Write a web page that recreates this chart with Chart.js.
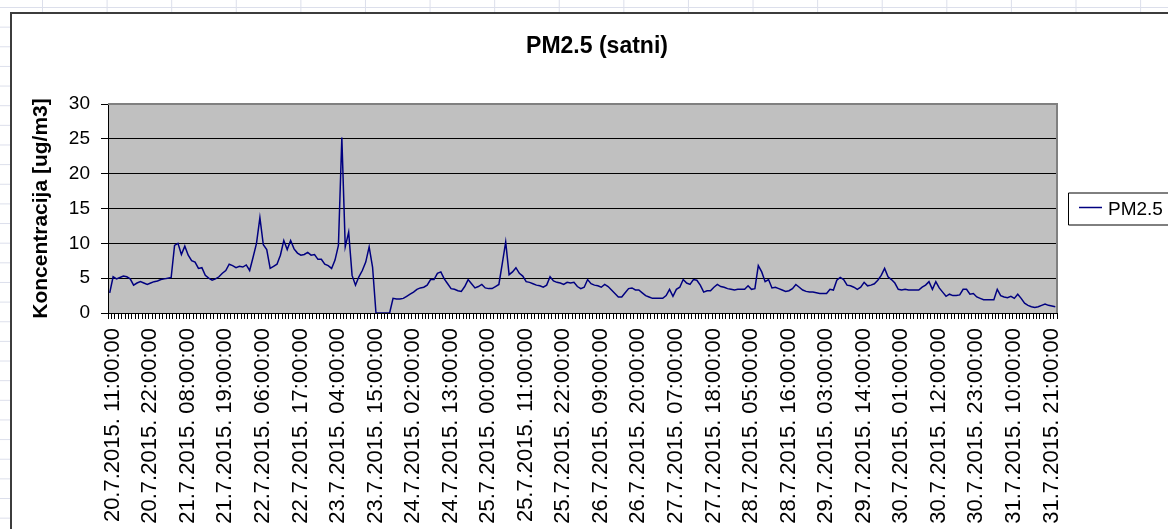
<!DOCTYPE html>
<html lang="hr">
<head>
<meta charset="UTF-8">
<title>PM2.5 (satni)</title>
<style>
html {
    overflow: hidden;
}

body {
    margin: 0;
    width: 1168px;
    height: 529px;
    overflow: hidden;
    position: relative;
    background-color: #fff;
    /* spreadsheet cells behind the chart */
    background-image:
        linear-gradient(to bottom, #dcdfeb 1px, transparent 1px),
        linear-gradient(to right, #dcdfeb 1px, transparent 1px);
    background-size: 64.6px 19.65px;
    background-position: 42px 7px;
}

#frame {
    position: absolute;
    left: 10px;
    top: 12px;
    width: 1200px;
    height: 600px;
    border: 2px solid #3c3c3c;
    background: #fff;
}

canvas {
    display: block;
}
</style>
<script src="https://cdn.jsdelivr.net/npm/chart.js"></script>
</head>
<body>
<div id="frame">
    <canvas id="pmChart" width="1156" height="515"></canvas>
</div>

<script>
// Chart texts
const chartTitle = 'PM2.5 (satni)';
const seriesName = 'PM2.5';
const yAxisTitle = 'Koncentracija [ug/m3]';

// Labels shown on the category axis (one every 11 hours)
const tickLabels = [
    '20.7.2015. 11:00:00', '20.7.2015. 22:00:00', '21.7.2015. 08:00:00',
    '21.7.2015. 19:00:00', '22.7.2015. 06:00:00', '22.7.2015. 17:00:00',
    '23.7.2015. 04:00:00', '23.7.2015. 15:00:00', '24.7.2015. 02:00:00',
    '24.7.2015. 13:00:00', '25.7.2015. 00:00:00', '25.7.2015. 11:00:00',
    '25.7.2015. 22:00:00', '26.7.2015. 09:00:00', '26.7.2015. 20:00:00',
    '27.7.2015. 07:00:00', '27.7.2015. 18:00:00', '28.7.2015. 05:00:00',
    '28.7.2015. 16:00:00', '29.7.2015. 03:00:00', '29.7.2015. 14:00:00',
    '30.7.2015. 01:00:00', '30.7.2015. 12:00:00', '30.7.2015. 23:00:00',
    '31.7.2015. 10:00:00', '31.7.2015. 21:00:00'
];
const labelEvery = 11;

// Hourly PM2.5 values [ug/m3], one row per labelled block of 11 hours
const pm25 = [
    2.9, 5.2, 4.9, 5.1, 5.3, 5.2, 4.9, 4.0, 4.3, 4.5, 4.3,
    4.1, 4.3, 4.5, 4.6, 4.8, 4.9, 5.0, 5.1, 9.7, 10.0, 8.4,
    9.6, 8.3, 7.5, 7.3, 6.4, 6.5, 5.4, 5.0, 4.7, 4.9, 5.2,
    5.7, 6.1, 7.0, 6.8, 6.5, 6.7, 6.6, 6.9, 6.1, 8.0, 10.0,
    13.7, 9.8, 9.1, 6.4, 6.7, 7.0, 8.3, 10.4, 9.1, 10.4, 9.2,
    8.6, 8.3, 8.4, 8.7, 8.3, 8.4, 7.7, 7.7, 7.0, 6.8, 6.4,
    7.6, 9.7, 25.2, 9.5, 11.6, 5.4, 4.0, 5.2, 6.1, 7.3, 9.5,
    6.6, 0, 0, 0, 0, 0, 2.1, 2.0, 2.0, 2.1, 2.4,
    2.7, 3.0, 3.4, 3.6, 3.7, 4.0, 4.8, 4.8, 5.7, 5.9, 4.9,
    4.2, 3.5, 3.4, 3.2, 3.1, 3.8, 4.8, 4.2, 3.6, 3.8, 4.1,
    3.6, 3.5, 3.5, 3.8, 4.1, 7.1, 10.2, 5.5, 5.9, 6.5, 5.7,
    5.3, 4.5, 4.4, 4.2, 4.0, 3.9, 3.7, 4.0, 5.2, 4.6, 4.4,
    4.3, 4.1, 4.4, 4.3, 4.4, 3.8, 3.5, 3.7, 4.8, 4.2, 4.0,
    3.9, 3.7, 4.1, 3.8, 3.3, 2.8, 2.3, 2.3, 2.9, 3.5, 3.6,
    3.3, 3.3, 2.9, 2.5, 2.3, 2.1, 2.1, 2.1, 2.1, 2.5, 3.4,
    2.4, 3.4, 3.7, 4.8, 4.3, 4.1, 4.8, 4.7, 4.0, 3.0, 3.2,
    3.2, 3.7, 4.1, 3.8, 3.7, 3.5, 3.4, 3.3, 3.4, 3.4, 3.4,
    3.9, 3.4, 3.5, 6.8, 5.9, 4.5, 4.8, 3.6, 3.7, 3.5, 3.3,
    3.1, 3.2, 3.5, 4.1, 3.7, 3.3, 3.1, 3.0, 3.0, 2.9, 2.8,
    2.8, 2.8, 3.4, 3.3, 4.7, 5.1, 4.8, 4.0, 3.9, 3.7, 3.4,
    3.7, 4.4, 3.9, 4.0, 4.2, 4.7, 5.4, 6.4, 5.2, 4.8, 4.3,
    3.4, 3.3, 3.4, 3.3, 3.3, 3.3, 3.3, 3.7, 4.0, 4.5, 3.4,
    4.5, 3.6, 3.0, 2.4, 2.7, 2.5, 2.5, 2.6, 3.4, 3.4, 2.7,
    2.8, 2.3, 2.1, 1.9, 1.9, 1.9, 1.9, 3.4, 2.5, 2.3, 2.2,
    2.4, 2.1, 2.7, 2.1, 1.4, 1.1, 0.9, 0.8, 0.9, 1.1, 1.3,
    1.1, 1.0, 0.9
];

// Value axis
const yMin = 0;
const yMax = 30;
const yStep = 5;

// one category per hour, only every 11th one carries a label
const categories = pm25.map((v, i) => (i % labelEvery === 0 ? tickLabels[i / labelEvery] : ''));

const fontFamily = "'Liberation Sans', Arial, sans-serif";

// Excel 2003 look: grey plot area, grey frame, title and boxed legend
const excelLook = {
    id: 'excelLook',
    beforeDraw(chart) {
        const { ctx, chartArea: a } = chart;
        ctx.save();
        ctx.fillStyle = '#c0c0c0';
        ctx.fillRect(a.left, a.top, a.right - a.left, a.bottom - a.top);
        ctx.restore();
    },
    beforeDatasetsDraw(chart) {
        const { ctx, chartArea: a } = chart;
        ctx.save();
        ctx.strokeStyle = '#808080';
        ctx.lineWidth = 2;
        ctx.beginPath();
        ctx.moveTo(a.left, a.top);
        ctx.lineTo(a.right, a.top);
        ctx.lineTo(a.right, a.bottom);
        ctx.stroke();
        ctx.restore();
    },
    afterDraw(chart) {
        const { ctx, chartArea: a } = chart;
        const ds = chart.data.datasets[0];
        ctx.save();

        // title, centred on the whole chart object (wider than the window)
        ctx.fillStyle = '#000';
        ctx.font = 'bold 23px ' + fontFamily;
        ctx.textAlign = 'center';
        ctx.textBaseline = 'alphabetic';
        ctx.fillText(chartTitle, 585, 39);

        // legend box, its right side runs past the visible edge
        const lx = a.right + 11;
        const ly = (a.top + a.bottom) / 2 - 16;
        ctx.fillStyle = '#fff';
        ctx.fillRect(lx, ly, 200, 32);
        ctx.strokeStyle = '#000';
        ctx.lineWidth = 1;
        ctx.beginPath();
        ctx.moveTo(lx + 200, ly + 0.5);
        ctx.lineTo(lx + 0.5, ly + 0.5);
        ctx.lineTo(lx + 0.5, ly + 32.5);
        ctx.lineTo(lx + 200, ly + 32.5);
        ctx.stroke();
        ctx.strokeStyle = ds.borderColor;
        ctx.lineWidth = 1.5;
        ctx.beginPath();
        ctx.moveTo(lx + 11, ly + 15);
        ctx.lineTo(lx + 34, ly + 15);
        ctx.stroke();
        ctx.fillStyle = '#000';
        ctx.font = '19px ' + fontFamily;
        ctx.textAlign = 'left';
        ctx.fillText(ds.label, lx + 40, ly + 22);
        ctx.restore();
    }
};

const ctx = document.getElementById('pmChart').getContext('2d');
new Chart(ctx, {
    type: 'line',
    data: {
        labels: categories,
        datasets: [{
            label: seriesName,
            data: pm25,
            borderColor: '#000080',
            borderWidth: 1.5,
            pointRadius: 0,
            tension: 0,
            fill: false
        }]
    },
    options: {
        responsive: false,
        animation: false,
        layout: {
            padding: { left: 0, top: 90, right: 111, bottom: 0 }
        },
        plugins: {
            legend: { display: false },
            title: { display: false },
            tooltip: { enabled: false }
        },
        scales: {
            x: {
                type: 'category',
                offset: true,
                afterFit: scale => { scale.height = 216; },
                border: { display: true, color: '#000', width: 1 },
                grid: {
                    offset: true,
                    drawOnChartArea: false,
                    drawTicks: true,
                    tickLength: 6,
                    color: '#000'
                },
                ticks: {
                    autoSkip: false,
                    minRotation: 90,
                    maxRotation: 90,
                    padding: 9,
                    labelOffset: 3,
                    color: '#000',
                    font: { family: fontFamily, size: 22 }
                }
            },
            y: {
                min: yMin,
                max: yMax,
                afterFit: scale => { scale.width = 96; },
                border: { display: true, color: '#000', width: 1 },
                grid: {
                    color: '#000',
                    lineWidth: 1,
                    tickLength: 7
                },
                ticks: {
                    stepSize: yStep,
                    padding: 11,
                    color: '#000',
                    font: { family: fontFamily, size: 19 }
                },
                title: {
                    display: true,
                    text: yAxisTitle,
                    color: '#000',
                    padding: { top: 17, bottom: 0 },
                    font: { family: fontFamily, size: 21, weight: 'bold' }
                }
            }
        }
    },
    plugins: [excelLook]
});
</script>
</body>
</html>
